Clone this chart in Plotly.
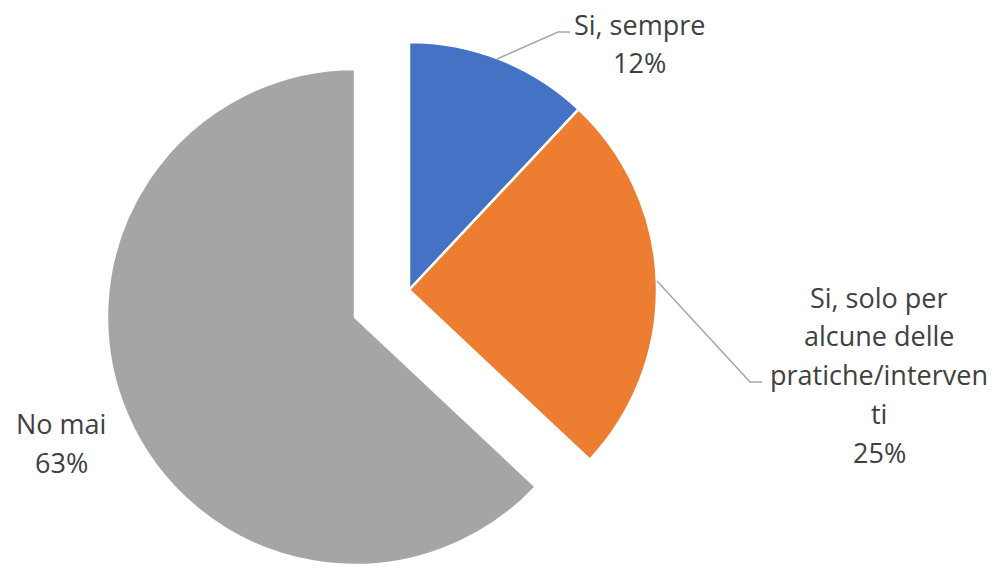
import plotly.graph_objs as go

labels = ['Si, sempre', 'Si, solo per alcune delle pratiche/interventi', 'No mai']
values = [12, 25, 63]
colors = ['#4472C4', '#ED7D31', '#A5A5A5']
# label text as it wraps in the original chart
label_lines = [
    ['Si, sempre', '12%'],
    ['Si, solo per', 'alcune delle', 'pratiche/interven', 'ti', '25%'],
    ['No mai', '63%'],
]

W, H = 997, 567
clear = 'rgba(0,0,0,0)'


def dom(cx, cy, r):
    return dict(x=[(cx - r) / W, (cx + r) / W], y=[(H - cy - r) / H, (H - cy + r) / H])


fig = go.Figure()

# blue + orange slices (gray hidden)
fig.add_trace(go.Pie(
    labels=labels, values=values, sort=False, direction='clockwise', rotation=0,
    marker=dict(colors=[colors[0], colors[1], clear],
                line=dict(color=['white', 'white', clear], width=2.5)),
    textinfo='none', hoverinfo='skip', showlegend=False,
    domain=dom(409, 290, 248)))

# exploded gray slice
fig.add_trace(go.Pie(
    labels=labels, values=values, sort=False, direction='clockwise', rotation=0,
    marker=dict(colors=[clear, clear, colors[2]],
                line=dict(color=[clear, clear, 'white'], width=2.5)),
    textinfo='none', hoverinfo='skip', showlegend=False,
    domain=dom(355, 317, 248)))

# label positions (px), line spacing per label
label_pos = [(639, 25, 37), (879, 297, 38.8), (61, 423, 39)]

for lines, (x, y0, dy) in zip(label_lines, label_pos):
    for i, t in enumerate(lines):
        fig.add_annotation(x=x / W, y=1 - (y0 + i * dy) / H, xref='paper', yref='paper',
                           text=t, showarrow=False, xanchor='center', yanchor='middle',
                           font=dict(family='Open Sans', size=27, color='#404040'))

# leader lines
leaders = [
    [(497, 59), (558, 32), (570, 32)],
    [(657, 281), (750, 382), (762, 382)],
]
for pts in leaders:
    path = 'M ' + ' L '.join('%f,%f' % (px / W, 1 - py / H) for px, py in pts)
    fig.add_shape(type='path', path=path, xref='paper', yref='paper',
                  line=dict(color='#A6A6A6', width=1.5))

fig.update_layout(width=W, height=H, margin=dict(l=0, r=0, t=0, b=0),
                  paper_bgcolor='white', plot_bgcolor='white')

fig.write_html("out.html", config={'displayModeBar': False},
               post_script="document.body.style.margin='0';")
